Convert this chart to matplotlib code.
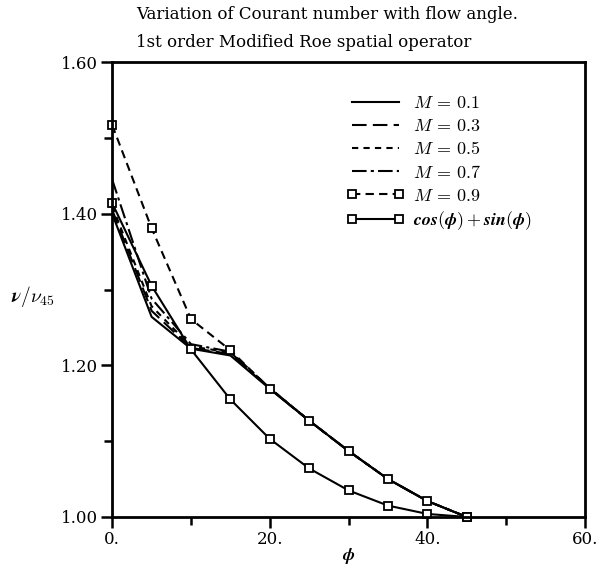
import matplotlib
matplotlib.use("Agg")
import matplotlib.pyplot as plt
from matplotlib.ticker import FixedLocator

plt.rcParams['mathtext.fontset'] = 'cm'
plt.rcParams['font.family'] = ['DejaVu Serif']

# Flow angle (degrees)
phi = [0, 5, 10, 15, 20, 25, 30, 35, 40, 45]

# Courant number ratio nu/nu45 for each Mach number
m01 = [1.400, 1.264, 1.222, 1.213, 1.169, 1.127, 1.087, 1.050, 1.021, 1.000]
m03 = [1.405, 1.272, 1.223, 1.215, 1.169, 1.127, 1.087, 1.050, 1.021, 1.000]
m05 = [1.410, 1.278, 1.225, 1.217, 1.170, 1.127, 1.087, 1.050, 1.021, 1.000]
m07 = [1.445, 1.288, 1.228, 1.218, 1.170, 1.127, 1.087, 1.050, 1.021, 1.000]
m09 = [1.517, 1.381, 1.261, 1.220, 1.169, 1.127, 1.087, 1.050, 1.021, 1.000]
# cos(phi)+sin(phi) reference curve
cossin = [1.414, 1.305, 1.221, 1.155, 1.103, 1.064, 1.035, 1.015, 1.004, 1.000]

labels = [r'$M\,=\,0.1$', r'$M\,=\,0.3$', r'$M\,=\,0.5$', r'$M\,=\,0.7$',
          r'$M\,=\,0.9$', r'$\boldsymbol{cos(\phi)+sin(\phi)}$']

xticks = [0, 20, 40, 60]
xticklabels = ['0.', '20.', '40.', '60.']
yticks = [1.00, 1.20, 1.40, 1.60]
yticklabels = ['1.00', '1.20', '1.40', '1.60']

fig = plt.figure(figsize=(6.0, 5.65), dpi=100)
ax = fig.add_axes([0.187, 0.085, 0.788, 0.805])

lw = 1.5
ax.plot(phi, m01, color='black', lw=lw, ls='-', label=labels[0])
ax.plot(phi, m03, color='black', lw=lw, ls=(0, (7, 3)), label=labels[1])
ax.plot(phi, m05, color='black', lw=lw, ls=(0, (3, 2.5)), label=labels[2])
ax.plot(phi, m07, color='black', lw=lw, ls=(0, (7, 2, 1.5, 2)), label=labels[3])
ax.plot(phi, m09, color='black', lw=lw, ls=(0, (4, 2.5)), marker='s', ms=6,
        mfc='white', mec='black', mew=1.3, clip_on=False, label=labels[4])
ax.plot(phi, cossin, color='black', lw=lw, ls='-', marker='s', ms=6,
        mfc='white', mec='black', mew=1.3, clip_on=False, label=labels[5])

ax.set_xlim(0, 60)
ax.set_ylim(1.0, 1.6)
ax.set_xticks(xticks)
ax.set_xticklabels(xticklabels)
ax.set_yticks(yticks)
ax.set_yticklabels(yticklabels)
ax.xaxis.set_minor_locator(FixedLocator([10, 30, 50]))
ax.yaxis.set_minor_locator(FixedLocator([1.1, 1.3, 1.5]))
ax.tick_params(which='major', direction='out', length=8, width=1.8,
               labelsize=12, pad=2)
ax.tick_params(which='minor', direction='out', length=6, width=1.8)
for sp in ax.spines.values():
    sp.set_linewidth(2.0)

ax.set_xlabel(r'$\boldsymbol{\phi}$', fontsize=13, labelpad=-1)
fig.text(0.018, 0.475, r'$\boldsymbol{\nu/\nu_{45}}$', fontsize=14,
         ha='left', va='center')

fig.text(0.227, 0.975, 'Variation of Courant number with flow angle.',
         fontsize=12, ha='left', va='center')
fig.text(0.227, 0.924, '1st order Modified Roe spatial operator',
         fontsize=12, ha='left', va='center')

ax.legend(loc='upper left', bbox_to_anchor=(0.48, 0.945), frameon=False,
          fontsize=13, handlelength=3.2, handletextpad=0.5,
          labelspacing=0.28, numpoints=2, borderaxespad=0)

fig.savefig('out.png', dpi=100)
